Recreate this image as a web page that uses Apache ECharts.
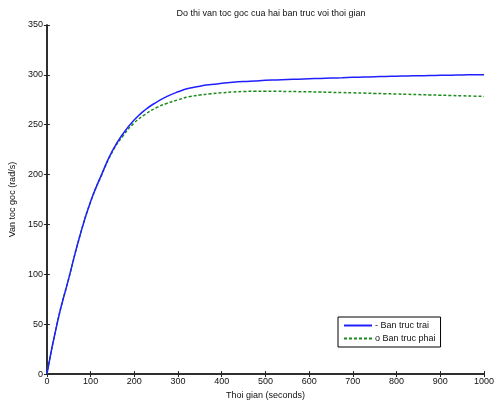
<!DOCTYPE html>
<html>
<head>
<meta charset="utf-8">
<script src="https://cdn.jsdelivr.net/npm/echarts@6/dist/echarts.min.js"></script>
<style>
  html, body { margin: 0; padding: 0; background: #fff; }
  #chart { width: 497px; height: 405px; }
</style>
</head>
<body>
<div id="chart"></div>
<script>
// time (s) and angular speed of the two shafts
const timeArr = [0, 25, 50, 75, 100, 125, 150, 175, 200, 225, 250, 275, 300, 325, 350, 375, 400, 425, 450, 475, 500,
  525, 550, 575, 600, 625, 650, 675, 700, 725, 750, 775, 800, 825, 850, 875, 900, 925, 950, 975, 1000]
const leftArr = [0, 54, 96, 138, 173, 200, 224, 241.5, 255, 265, 272.5, 278.5, 283, 286.5, 288.7, 290.3, 291.5, 292.5, 293.3, 293.9, 294.5,
  294.9, 295.3, 295.7, 296.1, 296.4, 296.8, 297.1, 297.5, 297.8, 298.1, 298.4, 298.7, 298.9, 299.1, 299.3, 299.5, 299.7, 299.9, 300.1, 300.2]
const rightArr = [0, 54, 96, 138, 173, 199.5, 223, 239.5, 252, 260.5, 267, 271.5, 275, 278, 279.8, 281, 282, 282.8, 283.3, 283.6, 283.6,
  283.5, 283.4, 283.2, 283, 282.8, 282.5, 282.3, 282, 281.7, 281.4, 281.1, 280.8, 280.5, 280.2, 279.9, 279.6, 279.3, 279, 278.7, 278.4]
const xTicks = [0, 100, 200, 300, 400, 500, 600, 700, 800, 900, 1000]
const yTicks = [0, 50, 100, 150, 200, 250, 300, 350]

const font = 'Liberation Sans'
const axisLine = { show: true, lineStyle: { color: '#222', width: 1.5 } }
const tickIn = { show: true, inside: true, length: 3, lineStyle: { color: '#222' } }

const myChart = echarts.init(document.getElementById('chart'))
const option = {
  animation: false,
  backgroundColor: '#fff',
  title: {
    text: 'Do thi van toc goc cua hai ban truc voi thoi gian',
    left: 266,
    textAlign: 'center',
    top: 4,
    textStyle: { fontFamily: font, fontSize: 9, fontWeight: 'normal', color: '#111' }
  },
  grid: { left: 43, top: 25, right: 8, bottom: 28 },
  legend: {
    orient: 'vertical',
    left: 338,
    top: 317,
    padding: [4, 5, 4, 5],
    itemGap: 4,
    itemWidth: 28,
    itemHeight: 8,
    borderColor: '#000',
    borderWidth: 1,
    backgroundColor: '#fff',
    itemStyle: { opacity: 0 },
    textStyle: { fontFamily: font, fontSize: 9, color: '#111', padding: [0, 0, 0, -2] },
    data: ['- Ban truc trai', 'o Ban truc phai']
  },
  xAxis: [{
    type: 'value',
    min: 0, max: 1000, interval: 100,
    name: 'Thoi gian (seconds)',
    nameLocation: 'middle',
    nameGap: 15,
    nameTextStyle: { fontFamily: font, fontSize: 9, color: '#111' },
    axisLine: axisLine,
    axisTick: tickIn,
    splitLine: { show: false },
    axisLabel: {
      fontFamily: font, fontSize: 9, color: '#111', margin: 3,
      formatter: v => xTicks.includes(v) ? String(v) : ''
    }
  }, {
    type: 'value', position: 'top',
    min: 0, max: 1000, interval: 100,
    axisLine: axisLine, axisTick: tickIn,
    axisLabel: { show: false }, splitLine: { show: false }
  }],
  yAxis: [{
    type: 'value',
    min: 0, max: 350, interval: 50,
    name: 'Van toc goc (rad/s)',
    nameLocation: 'middle',
    nameGap: 26,
    nameTextStyle: { fontFamily: font, fontSize: 9, color: '#111' },
    axisLine: axisLine,
    axisTick: tickIn,
    splitLine: { show: false },
    axisLabel: {
      fontFamily: font, fontSize: 9, color: '#111', margin: 4,
      formatter: v => yTicks.includes(v) ? String(v) : ''
    }
  }, {
    type: 'value', position: 'right',
    min: 0, max: 350, interval: 50,
    axisLine: axisLine, axisTick: tickIn,
    axisLabel: { show: false }, splitLine: { show: false }
  }],
  series: [{
    name: '- Ban truc trai',
    type: 'line',
    smooth: true,
    symbol: 'none',
    data: timeArr.map((t, i) => [t, leftArr[i]]),
    lineStyle: { color: '#2020ff', width: 1.5 },
    itemStyle: { color: '#2020ff' },
    z: 3
  }, {
    name: 'o Ban truc phai',
    type: 'line',
    smooth: true,
    symbol: 'none',
    data: timeArr.map((t, i) => [t, rightArr[i]]),
    lineStyle: { color: '#1a8a1a', width: 1.5, type: [3, 2] },
    itemStyle: { color: '#1a8a1a' },
    z: 2
  }]
}
myChart.setOption(option)
</script>
</body>
</html>
